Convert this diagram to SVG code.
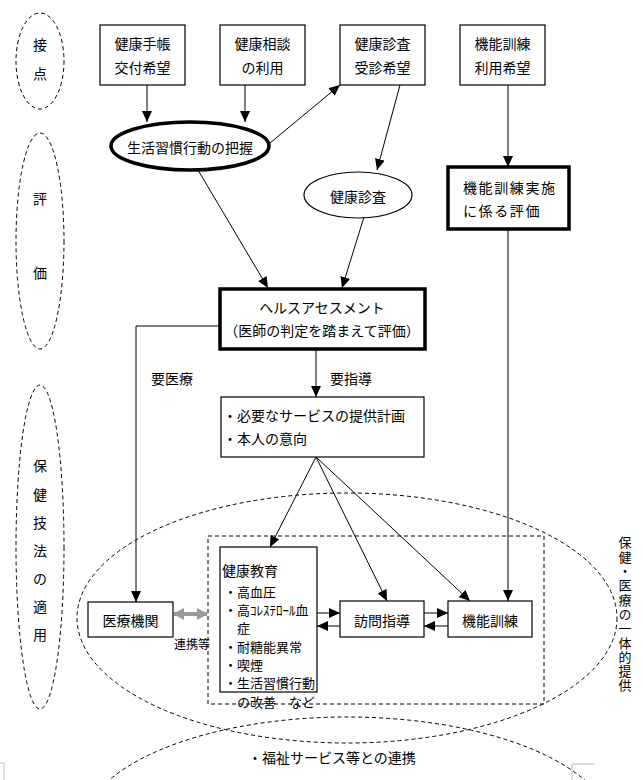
<svg xmlns="http://www.w3.org/2000/svg" width="643" height="780" viewBox="0 0 643 780">
<style>
text{font-family:"Noto Sans CJK JP","Noto Sans CJK SC",sans-serif;font-size:14px;fill:#000;dominant-baseline:central}
.c{text-anchor:middle}
.s{font-size:13px}
.box{fill:#fff;stroke:#000;stroke-width:1.2}
.thick{fill:#fff;stroke:#000;stroke-width:3.5}
.dash{fill:none;stroke:#000;stroke-width:1;stroke-dasharray:4 3}
.ln{fill:none;stroke:#000;stroke-width:1;marker-end:url(#ah)}
</style>
<defs>
<marker id="ah" markerUnits="userSpaceOnUse" markerWidth="11" markerHeight="10" refX="11" refY="5" orient="auto"><path d="M0,0 L11,5 L0,10 z" fill="#000"/></marker>
<marker id="ga" markerUnits="userSpaceOnUse" markerWidth="11" markerHeight="12" refX="10" refY="6" orient="auto-start-reverse"><path d="M0,0 L11,6 L0,12 z" fill="#999"/></marker>
</defs>
<rect width="643" height="780" fill="#fff"/>

<!-- left phase ellipses -->
<g id="phase1"><ellipse class="dash" cx="40" cy="61" rx="24" ry="48"/><text class="c" x="40" y="44">接</text><text class="c" x="40" y="73">点</text></g>
<g id="phase2"><ellipse class="dash" cx="40" cy="241" rx="24" ry="108"/><text class="c" x="40" y="198">評</text><text class="c" x="40" y="272">価</text></g>
<g id="phase3"><ellipse class="dash" cx="40" cy="547" rx="24" ry="162"/>
<text class="c" x="40" y="465">保</text><text class="c" x="40" y="494">健</text><text class="c" x="40" y="522">技</text><text class="c" x="40" y="550">法</text><text class="c" x="40" y="578">の</text><text class="c" x="40" y="606">適</text><text class="c" x="40" y="634">用</text></g>

<!-- big grouping shapes -->
<g id="groupArea">
<ellipse class="dash" cx="347" cy="618" rx="270" ry="125"/>
<ellipse class="dash" cx="347" cy="830" rx="265" ry="113"/>
<rect class="dash" x="208" y="536" width="336" height="168"/>
<text x="625" y="536" style="writing-mode:vertical-rl;font-size:13px;letter-spacing:1.3px;dominant-baseline:auto">保健・医療の一体的提供</text>
<text x="248" y="757">・福祉サービス等との連携</text>
<path d="M0,763 H4 V780 M595,764 H572 V780" fill="none" stroke="#bbb" stroke-width="1"/>
</g>

<!-- connectors -->
<g id="connectors">
<line class="ln" x1="147" y1="85" x2="147" y2="122"/>
<line class="ln" x1="245" y1="85" x2="245" y2="122"/>
<line class="ln" x1="270" y1="143" x2="340" y2="85"/>
<line class="ln" x1="400" y1="85" x2="377" y2="170"/>
<line class="ln" x1="508" y1="85" x2="508" y2="167"/>
<line class="ln" x1="198" y1="170" x2="268" y2="288"/>
<line class="ln" x1="364" y1="217" x2="342" y2="288"/>
<line class="ln" x1="316" y1="350" x2="316" y2="397"/>
<polyline class="ln" points="220,326 136,326 136,602"/>
<line class="ln" x1="508" y1="229" x2="508" y2="601"/>
<line class="ln" x1="316" y1="457" x2="270" y2="547"/>
<line class="ln" x1="316" y1="457" x2="387" y2="601"/>
<line class="ln" x1="316" y1="457" x2="470" y2="601"/>
<line class="ln" x1="317" y1="613" x2="340" y2="613"/>
<line class="ln" x1="340" y1="626" x2="317" y2="626"/>
<line class="ln" x1="424" y1="613" x2="448" y2="613"/>
<line class="ln" x1="448" y1="626" x2="424" y2="626"/>
<line x1="174" y1="614" x2="207" y2="614" stroke="#999" stroke-width="4" marker-start="url(#ga)" marker-end="url(#ga)"/>
<text x="174" y="643" style="font-size:12px">連携等</text>
<text x="151" y="378">要医療</text>
<text x="330" y="378">要指導</text>
</g>

<!-- nodes -->
<g id="n1"><rect class="box" x="100" y="25" width="85" height="60"/><text class="c" x="142.5" y="43">健康手帳</text><text class="c" x="142.5" y="67">交付希望</text></g>
<g id="n2"><rect class="box" x="220" y="25" width="85" height="60"/><text class="c" x="262.5" y="43">健康相談</text><text class="c" x="262.5" y="67">の利用</text></g>
<g id="n3"><rect class="box" x="340" y="25" width="85" height="60"/><text class="c" x="382.5" y="43">健康診査</text><text class="c" x="382.5" y="67">受診希望</text></g>
<g id="n4"><rect class="box" x="460" y="25" width="85" height="60"/><text class="c" x="502.5" y="43">機能訓練</text><text class="c" x="502.5" y="67">利用希望</text></g>
<g id="n5"><ellipse class="thick" cx="190" cy="146" rx="79" ry="24"/><text class="c" x="190" y="147">生活習慣行動の把握</text></g>
<g id="n6"><ellipse class="box" cx="358" cy="195" rx="54" ry="23"/><text class="c" x="358" y="196">健康診査</text></g>
<g id="n7"><rect class="thick" x="448" y="167" width="121" height="62"/><text x="463" y="187" style="letter-spacing:1.6px">機能訓練実施</text><text x="463" y="210" style="letter-spacing:1.6px">に係る評価</text></g>
<g id="n8"><rect class="thick" x="220" y="289" width="205" height="60"/><text class="c" x="322" y="307">ヘルスアセスメント</text><text class="c" x="322" y="330">（医師の判定を踏まえて評価）</text></g>
<g id="n9"><rect class="box" x="221" y="397" width="203" height="60"/><text x="223" y="415">・必要なサービスの提供計画</text><text x="223" y="438">・本人の意向</text></g>
<g id="n10"><rect class="box" x="88" y="602" width="85" height="35"/><text class="c" x="130.5" y="620">医療機関</text></g>
<g id="n11"><rect class="box" x="220" y="547" width="97" height="145"/>
<text x="222" y="570">健康教育</text>
<text class="s" x="224" y="591">・高血圧</text>
<text class="s" x="224" y="609">・高ｺﾚｽﾃﾛｰﾙ血</text>
<text class="s" x="237" y="627">症</text>
<text class="s" x="224" y="646">・耐糖能異常</text>
<text class="s" x="224" y="664">・喫煙</text>
<text class="s" x="224" y="682">・生活習慣行動</text>
<text class="s" x="237" y="701">の改善　など</text></g>
<g id="n12"><rect class="box" x="340" y="601" width="84" height="36"/><text class="c" x="382" y="620">訪問指導</text></g>
<g id="n13"><rect class="box" x="448" y="601" width="84" height="36"/><text class="c" x="490" y="620">機能訓練</text></g>
</svg>
